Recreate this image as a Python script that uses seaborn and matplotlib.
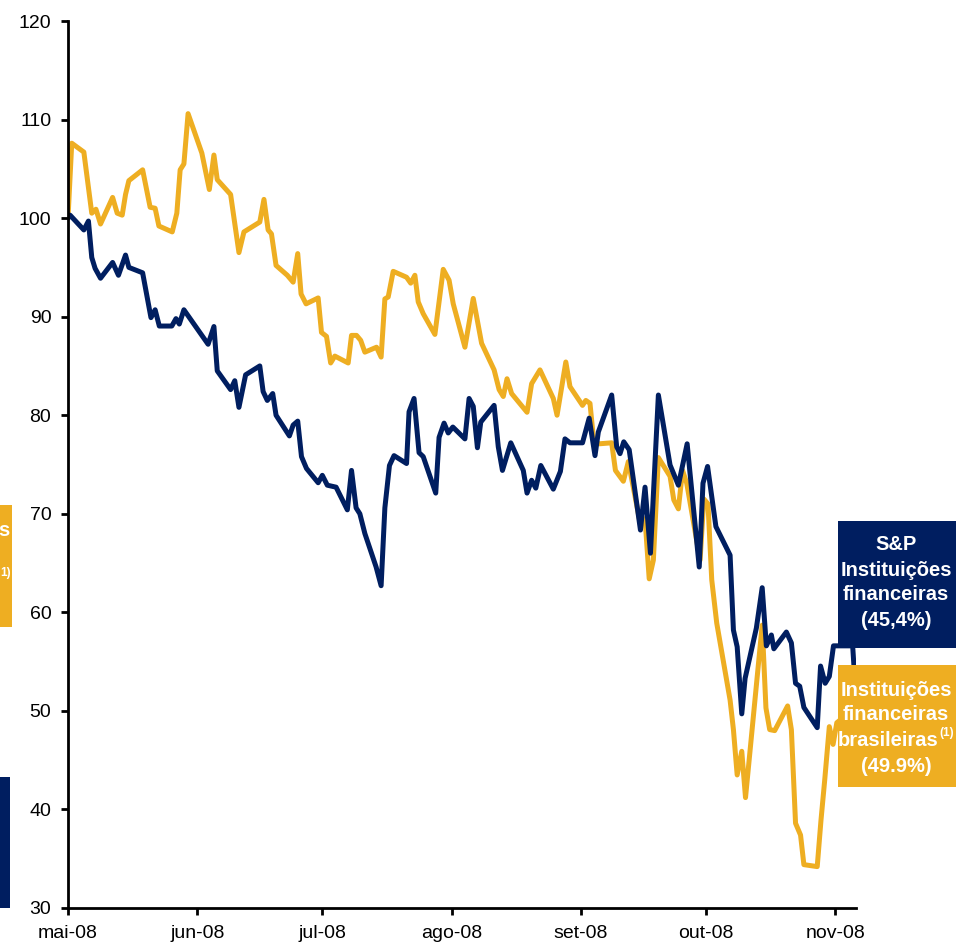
import numpy as np
import pandas as pd
import matplotlib
matplotlib.use("Agg")
import matplotlib.pyplot as plt
import seaborn as sns
from matplotlib.patches import Rectangle

# ---- data (days after 2008-05-01, index value) ----
br_days = [0, 0.9, 3.8, 5.7, 6.7, 7.8, 10.7, 11.8, 13.0, 13.8, 14.6, 17.9, 19.7, 20.9, 21.8,
           25.0, 26.1, 26.9, 27.8, 28.8, 32.1, 33.9, 35.0, 35.8, 39.0, 41.0, 42.2, 46.0, 47.0,
           48.0, 48.8, 49.9, 52.6, 54.0, 55.1, 55.9, 57.1, 60.0, 60.8, 62.0, 63.0, 64.0, 67.2,
           68.0, 69.2, 70.2, 71.2, 74.0, 75.1, 76.0, 76.8, 78.0, 81.2, 82.2, 83.2, 84.0, 85.2,
           88.0, 90.0, 91.4, 92.4, 95.2, 97.2, 99.2, 102.2, 103.4, 104.4, 105.3, 106.4, 110.1,
           111.2, 113.2, 116.4, 117.3, 119.4, 120.4, 123.4, 124.2, 125.2, 126.1, 127.4, 130.4,
           131.3, 133.2, 134.4, 137.3, 138.4, 139.4, 140.4, 141.6, 144.4, 145.3, 146.4, 147.4,
           148.4, 151.6, 152.5, 153.5, 154.4, 155.6, 158.8, 159.6, 160.5, 161.6, 162.5, 166.5,
           167.4, 168.3, 169.5, 172.6, 173.5, 174.5, 175.7, 176.5, 179.7, 180.6, 181.5, 182.6,
           183.5, 184.4, 188.2]
br_vals = [100.0, 107.6, 106.7, 100.5, 100.9, 99.4, 102.1, 100.5, 100.3, 102.4, 103.8, 104.9,
           101.1, 101.0, 99.2, 98.6, 100.5, 104.9, 105.5, 110.6, 106.6, 102.9, 106.4, 103.9,
           102.4, 96.5, 98.6, 99.6, 101.9, 98.8, 98.4, 95.2, 94.2, 93.5, 96.4, 92.3, 91.3, 91.9,
           88.4, 88.0, 85.3, 86.0, 85.3, 88.1, 88.1, 87.6, 86.4, 86.9, 85.9, 91.8, 92.0, 94.6,
           94.0, 93.4, 94.2, 91.5, 90.3, 88.2, 94.8, 93.7, 91.3, 86.9, 91.85, 87.3, 84.6, 82.6,
           81.9, 83.7, 82.2, 80.3, 83.2, 84.6, 81.7, 80.0, 85.4, 82.9, 81.0, 81.5, 81.2, 77.3,
           77.1, 77.2, 74.4, 73.3, 75.3, 68.9, 69.5, 63.4, 65.3, 75.7, 73.8, 71.4, 70.5, 74.4,
           73.1, 65.3, 71.5, 71.0, 63.3, 58.9, 51.1, 48.1, 43.5, 45.9, 41.2, 58.7, 50.3, 48.1,
           48.0, 50.5, 48.1, 38.6, 37.4, 34.4, 34.2, 38.9, 43.0, 48.4, 46.6, 48.8, 50.1]

sp_days = [0, 0.5, 3.8, 4.9, 5.7, 6.5, 7.8, 10.7, 12.1, 13.8, 14.6, 17.9, 19.9, 20.9, 21.9,
           24.9, 25.9, 26.7, 27.8, 33.6, 35.0, 35.8, 39.0, 40.0, 41.0, 42.6, 46.0, 46.8, 47.8,
           49.1, 49.9, 53.1, 54.0, 55.1, 56.0, 57.2, 60.0, 61.0, 62.2, 64.3, 67.0, 68.0, 69.1,
           70.0, 71.2, 73.9, 75.1, 76.0, 77.1, 78.2, 81.2, 81.8, 83.0, 84.2, 85.2, 88.2, 89.0,
           90.2, 91.2, 92.3, 95.2, 96.2, 97.2, 98.2, 99.0, 102.2, 103.2, 104.2, 106.2, 109.2,
           110.1, 111.2, 112.2, 113.4, 116.4, 118.1, 119.2, 120.4, 123.4, 125.0, 126.4, 127.2,
           130.4, 131.6, 132.4, 133.3, 134.6, 137.3, 138.4, 139.7, 141.6, 144.4, 146.4, 148.5,
           151.4, 152.3, 153.4, 155.4, 158.8, 159.6, 160.5, 161.6, 162.4, 165.1, 166.5, 167.5,
           168.7, 169.3, 172.3, 173.5, 174.5, 175.5, 176.5, 179.7, 180.5, 181.6, 182.6, 183.6,
           188.2, 188.5]
sp_vals = [100.0, 100.3, 98.8, 99.7, 96.0, 94.9, 93.9, 95.5, 94.2, 96.25, 95.0, 94.45, 89.9,
           90.7, 89.05, 89.05, 89.8, 89.25, 90.7, 87.2, 89.0, 84.5, 82.6, 83.5, 80.8, 84.1,
           85.0, 82.4, 81.5, 82.2, 80.0, 77.9, 79.0, 79.4, 75.8, 74.6, 73.15, 73.9, 72.9, 72.7,
           70.4, 74.4, 70.6, 70.0, 68.0, 64.6, 62.7, 70.6, 74.9, 75.9, 75.1, 80.35, 81.7, 76.2,
           75.8, 72.1, 77.75, 79.2, 78.2, 78.8, 77.6, 81.7, 80.9, 76.7, 79.3, 81.0, 76.8, 74.4,
           77.2, 74.4, 72.1, 73.4, 72.6, 74.9, 72.5, 74.3, 77.6, 77.2, 77.2, 79.7, 75.9, 78.3,
           82.05, 76.8, 76.1, 77.3, 76.5, 68.35, 72.7, 66.0, 82.05, 74.95, 72.9, 77.1, 64.6,
           73.1, 74.8, 68.7, 65.8, 58.2, 56.5, 49.7, 53.3, 58.4, 62.5, 56.6, 57.7, 56.3, 58.0,
           56.9, 52.8, 52.5, 50.35, 48.3, 54.55, 52.8, 53.5, 56.6, 56.6, 54.6]

month_ticks = ["2008-05-01", "2008-06-01", "2008-07-01", "2008-08-01",
               "2008-09-01", "2008-10-01", "2008-11-01"]
month_labels = ["mai-08", "jun-08", "jul-08", "ago-08", "set-08", "out-08", "nov-08"]
y_ticks = [30, 40, 50, 60, 70, 80, 90, 100, 110, 120]

series_names = ["Instituições financeiras brasileiras", "S&P Instituições financeiras"]
sp_box_lines = ["S&P", "Instituições", "financeiras", "(45,4%)"]
br_box_lines = ["Instituições", "financeiras", "brasileiras", "(49.9%)"]
footnote_mark = "(1)"
NAVY = "#001E60"
GOLD = "#EEAE22"

start = pd.Timestamp("2008-05-01")
df = pd.concat([
    pd.DataFrame({"date": start + pd.to_timedelta(br_days, unit="D"), "value": br_vals,
                  "serie": series_names[0]}),
    pd.DataFrame({"date": start + pd.to_timedelta(sp_days, unit="D"), "value": sp_vals,
                  "serie": series_names[1]}),
], ignore_index=True)

sns.set_style("ticks")
plt.rcParams["font.family"] = ["Liberation Sans", "DejaVu Sans"]

fig = plt.figure(figsize=(9.56, 9.52), dpi=100)
ax = fig.add_axes([68 / 956, 1 - 908 / 952, (856 - 68) / 956, (908 - 21) / 952])

sns.lineplot(data=df, x="date", y="value", hue="serie",
             palette={series_names[0]: GOLD, series_names[1]: NAVY},
             hue_order=series_names, estimator=None, linewidth=3.6,
             legend=False, ax=ax)

ax.set_xlim(start, start + pd.Timedelta(days=189))
ax.set_ylim(30, 120)
ax.set_yticks(y_ticks)
ax.set_yticklabels([str(v) for v in y_ticks])
ax.set_xticks(pd.to_datetime(month_ticks))
ax.set_xticklabels(month_labels)
ax.set_xlabel("")
ax.set_ylabel("")
for s in ["top", "right"]:
    ax.spines[s].set_visible(False)
for s in ["left", "bottom"]:
    ax.spines[s].set_linewidth(2)
    ax.spines[s].set_color("black")
    ax.spines[s].set_clip_on(False)
ax.tick_params(axis="both", direction="out", length=5, width=2, color="black",
               labelsize=14, labelcolor="black", pad=7)

# label boxes
def box(x0, y0, x1, y1, color):
    fig.add_artist(Rectangle((x0 / 956, 1 - y1 / 952), (x1 - x0) / 956, (y1 - y0) / 952,
                             transform=fig.transFigure, facecolor=color, edgecolor="none",
                             zorder=5))

box(838, 521, 970, 648, NAVY)
box(838, 665, 970, 787, GOLD)
box(-20, 505, 12, 627, GOLD)
box(-20, 777, 10, 908, NAVY)

BOXFONT = ["Liberation Sans", "DejaVu Sans"]
FS = 14.5

def label(x, y, s, ha="center", size=FS, va="center"):
    return fig.text(x / 956, 1 - y / 952, s, ha=ha, va=va, color="white",
                    fontsize=size, fontweight="bold", family=BOXFONT, zorder=6)

for yy, s in zip([545, 570, 595, 621], sp_box_lines):
    label(896, yy, s)
for yy, s in zip([690, 715, 766], [br_box_lines[0], br_box_lines[1], br_box_lines[3]]):
    label(896, yy, s)

# "brasileiras" + superscript footnote mark, centred together
renderer = fig.canvas.get_renderer()
main = label(0, 740, br_box_lines[2], ha="left")
sup = label(0, 733, footnote_mark, ha="left", size=8.5)
w_main = main.get_window_extent(renderer).width
w_sup = sup.get_window_extent(renderer).width
x0 = 896 - (w_main + w_sup + 1) / 2
main.set_x(x0 / 956)
sup.set_x((x0 + w_main + 1) / 956)

# fragments of the left-hand boxes (cut off in the original)
label(10, 530, "s", ha="right")
label(11, 573, "1)", ha="right", size=8.5)

fig.savefig("out.png", dpi=100)
